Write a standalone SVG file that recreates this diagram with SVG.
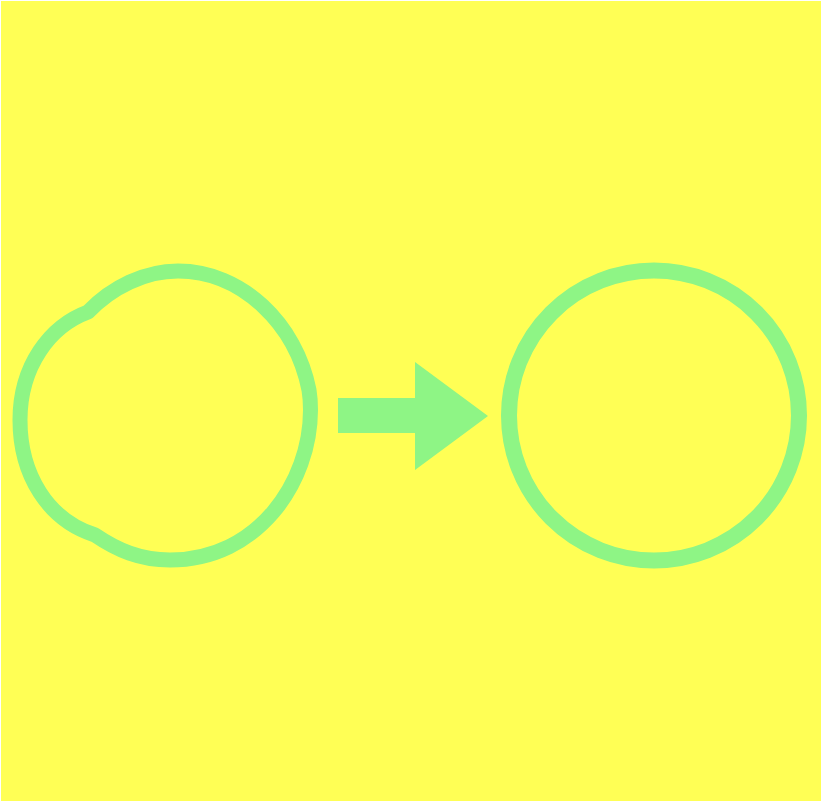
<svg xmlns="http://www.w3.org/2000/svg" width="822" height="802" viewBox="0 0 822 802">
<style>
.ring{fill:none;stroke:#8EF585;stroke-width:15;stroke-linejoin:round}
.fill{fill:#8EF585}
</style>
<rect x="0" y="0" width="822" height="802" fill="#ffffff"/>
<rect x="1" y="1" width="820" height="800" fill="#FFFF55"/>
<g id="node-left">
<path class="ring" d="M 88 312 C 112 287 145 271 178 271 C 242 271 296 324 309 390 C 310 396 310.5 402 310.5 410 C 310.5 482 258 560 170 560 C 140 560 117 550 95 535 C 48 520 20 475 20 420 C 20 366 50 326 88 312 Z"/>
</g>
<g id="connectors">
<polygon class="fill" points="338,398 415,398 415,362 488,416 415,470 415,433 338,433"/>
</g>
<g id="node-right">
<circle class="ring" cx="654" cy="415.5" r="145" style="stroke-width:16"/>
</g>
</svg>
